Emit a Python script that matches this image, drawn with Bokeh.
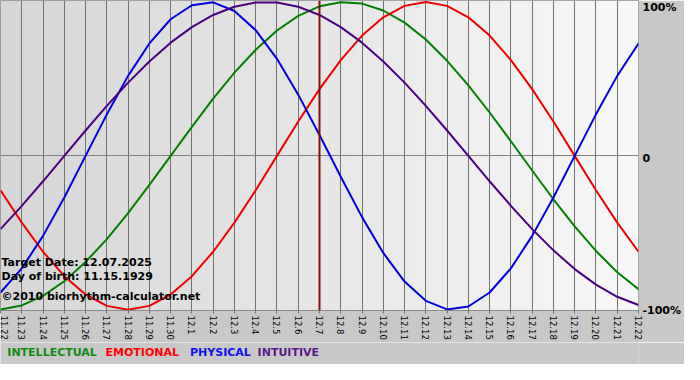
import math
import numpy as np
from bokeh.plotting import figure
from bokeh.layouts import column
from bokeh.models import Range1d, LinearAxis, FixedTicker, Span, Label, ColumnDataSource
from bokeh.core.properties import value
from bokeh.embed import file_html
from bokeh.resources import INLINE

# ---- data ----
dates = ["11.22", "11.23", "11.24", "11.25", "11.26", "11.27", "11.28", "11.29", "11.30",
         "12.1", "12.2", "12.3", "12.4", "12.5", "12.6", "12.7", "12.8", "12.9", "12.10",
         "12.11", "12.12", "12.13", "12.14", "12.15", "12.16", "12.17", "12.18", "12.19",
         "12.20", "12.21", "12.22"]
target_date = "12.7"

intellectual = [-0.999, -0.972, -0.910, -0.815, -0.690, -0.541, -0.372, -0.189, 0.000,
                0.189, 0.372, 0.541, 0.690, 0.815, 0.910, 0.972, 0.999, 0.990, 0.945,
                0.866, 0.756, 0.618, 0.458, 0.282, 0.095, -0.095, -0.282, -0.458,
                -0.618, -0.756, -0.866]
emotional = [-0.223, -0.434, -0.623, -0.782, -0.901, -0.975, -1.000, -0.975, -0.901,
             -0.782, -0.623, -0.434, -0.223, 0.000, 0.223, 0.434, 0.623, 0.782, 0.901,
             0.975, 1.000, 0.975, 0.901, 0.782, 0.623, 0.434, 0.223, 0.000,
             -0.223, -0.434, -0.623]
physical = [-0.888, -0.731, -0.520, -0.270, 0.000, 0.270, 0.520, 0.731, 0.888,
            0.979, 0.998, 0.942, 0.817, 0.631, 0.398, 0.136, -0.136, -0.398, -0.631,
            -0.817, -0.942, -0.998, -0.979, -0.888, -0.731, -0.520, -0.270, 0.000,
            0.270, 0.520, 0.731]
intuitive = [-0.476, -0.325, -0.165, 0.000, 0.165, 0.325, 0.476, 0.614, 0.736,
             0.837, 0.916, 0.969, 0.997, 0.997, 0.969, 0.916, 0.837, 0.736, 0.614,
             0.476, 0.325, 0.165, 0.000, -0.165, -0.325, -0.476, -0.614, -0.736,
             -0.837, -0.916, -0.969]

series_names = ["INTELLECTUAL", "EMOTIONAL", "PHYSICAL", "INTUITIVE"]
info_lines = ["Target Date: 12.07.2025", "Day of birth: 11.15.1929", "\u00a92010 biorhythm-calculator.net"]
right_ticks = [1, 0, -1]
right_labels = ["100%", "0", "-100%"]

# ---- styling ----
colors = ["#008000", "#ee0000", "#0000dd", "#4b0082"]
legend_colors = ["#108a10", "#ff0000", "#1010ee", "#5a1a8b"]
FONT = "DejaVu Sans"
BORDER = "#c8c8c8"
W = 684

idx = list(range(len(dates)))
x0, x1 = 0, len(dates) - 1
y0, y1 = -1.005, 1.01

p = figure(width=W, height=342, output_backend="svg", toolbar_location=None,
           x_range=Range1d(x0, x1), y_range=Range1d(y0, y1), y_axis_location=None,
           min_border_left=0, min_border_top=0, min_border_right=40, min_border_bottom=29)
p.border_fill_color = BORDER
p.outline_line_color = "#8a8a8a"

# background gradient inside the plot area (left grey -> right near white)
ncol = 128
grad = np.linspace(0xd6, 0xf8, ncol).astype(np.uint8)
img = np.empty((2, ncol), dtype=np.uint32)
view = img.view(dtype=np.uint8).reshape((2, ncol, 4))
view[:, :, 0] = grad
view[:, :, 1] = grad
view[:, :, 2] = grad
view[:, :, 3] = 255
p.image_rgba(image=[img], x=x0, y=y0, dw=x1 - x0, dh=y1 - y0, level="image")

# grids
p.xgrid.ticker = FixedTicker(ticks=idx)
p.xgrid.grid_line_color = "#727272"
p.xgrid.grid_line_width = 1
p.ygrid.ticker = FixedTicker(ticks=[0])
p.ygrid.grid_line_color = "#808080"

# bottom axis
xa = p.xaxis[0]
xa.ticker = FixedTicker(ticks=idx)
xa.major_label_overrides = {i: d for i, d in enumerate(dates)}
xa.major_label_orientation = -math.pi / 2
xa.major_label_text_font = FONT
xa.major_label_text_font_size = "8.5px"
xa.major_label_text_color = "#000000"
xa.major_label_standoff = 2
xa.major_tick_out = 3
xa.major_tick_in = 0
xa.major_tick_line_color = "#727272"
xa.minor_tick_line_color = None
xa.axis_line_color = "#8a8a8a"

# right axis with percentage labels
p.extra_y_ranges = {"lbl": Range1d(-1.0, 1.046)}
ra = LinearAxis(y_range_name="lbl", ticker=FixedTicker(ticks=right_ticks),
                major_label_overrides={t: l for t, l in zip(right_ticks, right_labels)},
                axis_line_color=None, major_tick_line_color=None, minor_tick_line_color=None,
                major_tick_out=0, major_tick_in=0,
                major_label_standoff=4, major_label_text_font=FONT,
                major_label_text_font_style="bold", major_label_text_font_size="11px",
                major_label_text_color="#000000")
p.add_layout(ra, "right")

# curves
for vals, c in zip([intellectual, emotional, physical, intuitive], colors):
    p.line(idx, vals, line_color=c, line_width=2)

# target date line
p.add_layout(Span(location=dates.index(target_date), dimension="height",
                  line_color="#801010", line_width=2))

# info texts
for txt, yy in zip(info_lines, [-0.690, -0.786, -0.915]):
    p.add_layout(Label(x=x0, y=yy, x_offset=1, text=txt, text_font=FONT,
                       text_font_size="11px", text_font_style="bold",
                       text_baseline="middle", text_color="#000000"))

# coloured series names in a strip below the chart (shares the day axis)
p2 = figure(width=W, height=22, output_backend="svg", toolbar_location=None,
            x_range=p.x_range, y_range=Range1d(0, 22),
            x_axis_location=None, y_axis_location=None,
            min_border_left=0, min_border_top=0, min_border_bottom=0, min_border_right=40)
p2.border_fill_color = BORDER
p2.background_fill_color = BORDER
p2.outline_line_color = None
p2.xgrid.visible = False
p2.ygrid.visible = False
src = ColumnDataSource(dict(x=[0.32, 4.94, 8.91, 12.09], y=[12, 12, 12, 12],
                            text=series_names, color=legend_colors))
p2.text(x="x", y="y", text="text", text_color="color", source=src,
        text_font=value(FONT), text_font_size="11px", text_font_style="bold",
        text_baseline="middle")

layout = column(p, p2, spacing=0)
open("out.html", "w").write(file_html(layout, INLINE))
